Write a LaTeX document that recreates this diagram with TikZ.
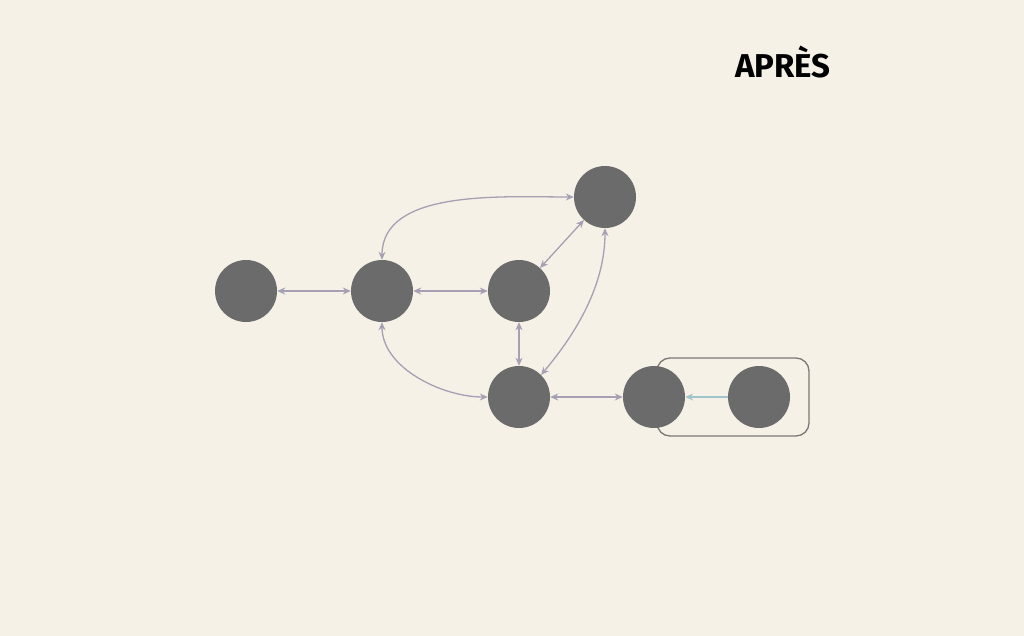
\documentclass[tikz,border=0pt]{standalone}
\usepackage{fontspec}
\setsansfont{Fira Sans}
\usetikzlibrary{arrows.meta}
\definecolor{bg}{HTML}{F6F1E7}
\definecolor{nodec}{HTML}{6B6B6B}
\definecolor{edgec}{HTML}{A79FB3}
\definecolor{bluec}{HTML}{9FC4CC}
\definecolor{rectc}{HTML}{7D7776}
\tikzset{
  vert/.style={circle,fill=nodec,minimum size=62pt,inner sep=0pt},
  link/.style={draw=edgec,line width=1.3pt,{Stealth[length=8pt,width=7pt]}-{Stealth[length=8pt,width=7pt]}},
  onelink/.style={draw=bluec,line width=1.3pt,-{Stealth[length=8pt,width=7pt]}},
}
\begin{document}
\begin{tikzpicture}[x=1pt,y=-1pt]
\fill[bg] (0,0) rectangle (1024,636);
\useasboundingbox (0,0) rectangle (1024,636);
\node[font=\sffamily\bfseries\fontsize{33}{33}\selectfont] (title) at (783,62) {APRÈS};
\draw[rectc,line width=1.3pt,rounded corners=13pt] (657,358) rectangle (809,436);
\node[vert] (A) at (246,291) {};
\node[vert] (B) at (382,291) {};
\node[vert] (C) at (519,291) {};
\node[vert] (D) at (605,197) {};
\node[vert] (E) at (519,397) {};
\node[vert] (F) at (654,397) {};
\node[vert] (G) at (759,397) {};
\draw[link] (A) -- (B);
\draw[link] (B) -- (C);
\draw[link] (C) -- (D);
\draw[link] (C) -- (E);
\draw[link] (E) -- (F);
\draw[onelink] (G) -- (F);
\draw[link] (B.north) to[out=90,in=180,looseness=0.9] (D.west);
\draw[link] (B.south) to[out=-90,in=180,looseness=0.9] (E.west);
\draw[link] (D.south) to[out=-90,in=50,looseness=0.9] (E.north east);
\end{tikzpicture}
\end{document}
